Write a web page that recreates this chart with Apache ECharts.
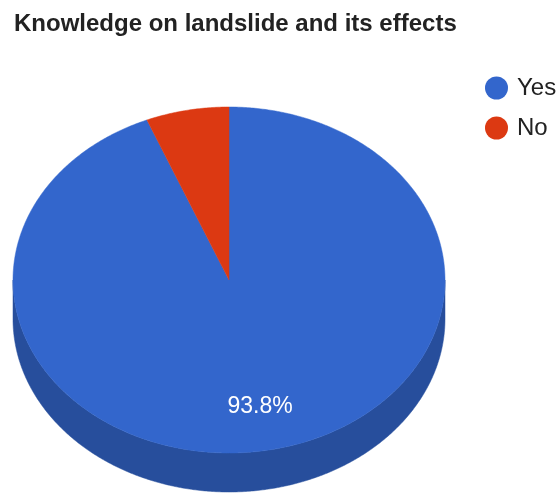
<!DOCTYPE html>
<html>
<head>
<meta charset="utf-8">
<script src="https://cdn.jsdelivr.net/npm/echarts@6/dist/echarts.min.js"></script>
<style>html,body{margin:0;padding:0;background:#fff}#c{width:559px;height:495px}</style>
</head>
<body>
<div id="c"></div>
<script>
const categories = ['Yes', 'No'];
const values = [93.8, 6.2];
const colors = ['#3366cc', '#dc3912'];
const sideColors = ['#274e9c', '#a62b0e'];
const labelText = ['93.8%', ''];

const FONT = 'Liberation Sans, Arial, sans-serif';
const geo = { cx: 229, cy: 280, rx: 216, ry: 173, depth: 39, labelR: 0.745 };
const total = values.reduce((a, b) => a + b, 0);
const starts = [];
let acc = 0;
values.forEach(v => { starts.push(acc); acc += v; });

function pt(theta, dy) {
  return [geo.cx + geo.rx * Math.sin(theta), geo.cy - geo.ry * Math.cos(theta) + (dy || 0)];
}
function arc(a0, a1, dy) {
  const pts = [];
  const n = Math.max(2, Math.ceil((a1 - a0) / (Math.PI / 360)));
  for (let k = 0; k <= n; k++) pts.push(pt(a0 + (a1 - a0) * k / n, dy));
  return pts;
}

function makeRender(i) {
  return function (params, api) {
    const v = api.value(0);
    const a0 = starts[i] / total * 2 * Math.PI;
    const a1 = a0 + v / total * 2 * Math.PI;
    const children = [];
    const s0 = Math.max(a0, Math.PI / 2), s1 = Math.min(a1, 3 * Math.PI / 2);
    if (s1 > s0) {
      const top = arc(s0, s1, 0);
      const bot = arc(s0, s1, geo.depth).reverse();
      children.push({ type: 'polygon', shape: { points: top.concat(bot) }, style: { fill: sideColors[i], stroke: sideColors[i], lineWidth: 0.5 } });
    }
    const sector = [[geo.cx, geo.cy]].concat(arc(a0, a1, 0));
    children.push({ type: 'polygon', shape: { points: sector }, style: { fill: colors[i], stroke: colors[i], lineWidth: 0.5 } });
    if (labelText[i]) {
      const mid = (a0 + a1) / 2;
      const p = [geo.cx + geo.rx * geo.labelR * Math.sin(mid), geo.cy - geo.ry * geo.labelR * Math.cos(mid)];
      children.push({ type: 'text', style: { text: labelText[i], x: p[0], y: p[1], fill: '#ffffff', font: '23px ' + FONT, textAlign: 'center', textVerticalAlign: 'middle' } });
    }
    return { type: 'group', children: children };
  };
}

const chart = echarts.init(document.getElementById('c'), null, { renderer: 'canvas' });
chart.setOption({
  animation: false,
  title: { text: 'Knowledge on landslide and its effects', left: 9, top: 7, textStyle: { fontFamily: FONT, fontSize: 24, fontWeight: 'bold', color: '#222222' } },
  legend: {
    orient: 'vertical', left: 480, top: 71, icon: 'circle', itemWidth: 23, itemHeight: 23, itemGap: 16,
    selectedMode: false, data: categories,
    textStyle: { fontFamily: FONT, fontSize: 24, color: '#222222', padding: [0, 0, 0, 4] }
  },
  series: categories.map((name, i) => ({
    type: 'custom', name: name, coordinateSystem: 'none', silent: true,
    itemStyle: { color: colors[i] },
    data: [values[i]],
    renderItem: makeRender(i)
  }))
});
</script>
</body>
</html>
